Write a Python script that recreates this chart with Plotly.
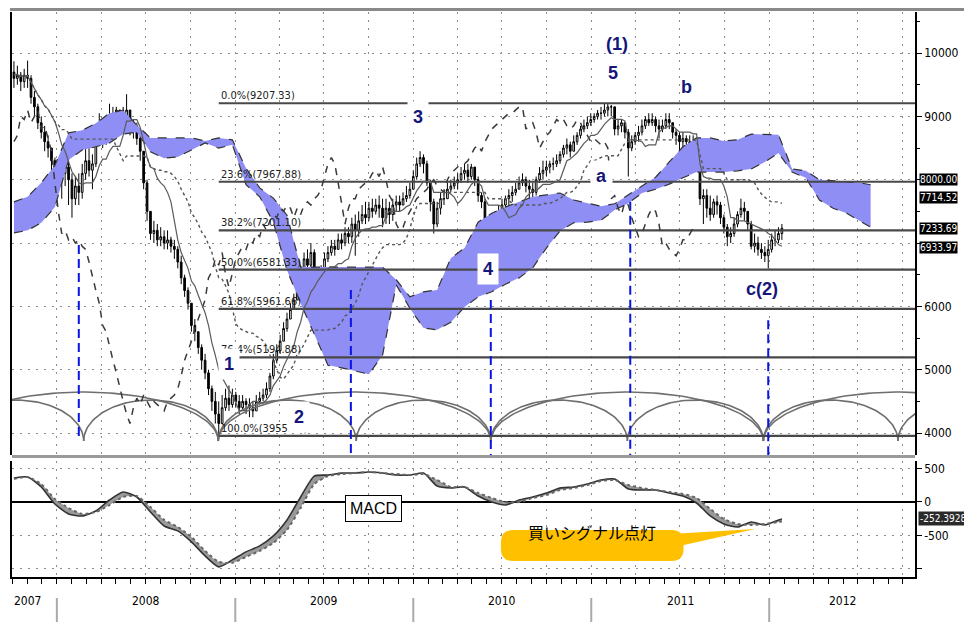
import numpy as np
import pandas as pd
import plotly.graph_objects as go

# ---------------- data (weekly candles) ----------------
first_week = "2007-10-05"
first_open = 9700

close = [
 9600, 9650, 9550, 9650, 9600, 9300, 9150, 8900, 8750, 8600, 8500, 8300, 8100,
 8000, 8100, 8200, 8000, 7700, 7900, 7800, 8100, 8300, 8150, 8250, 8600, 8800,
 8600, 8700, 9000, 8950, 9100, 8900, 9000, 9100, 8800, 8850, 8650, 8450, 7950,
 7500, 7150, 7200, 7050, 7100, 7000, 7050, 6950, 6900, 6700, 6450, 6250, 6050,
 5700, 5600, 5350, 5150, 4950, 4700, 4500, 4300, 4150, 4400, 4550, 4450, 4600,
 4500, 4400, 4500, 4450, 4400, 4350, 4500, 4550, 4600, 4700, 4900, 5150, 5300,
 5450, 5650, 5800, 5950, 6100, 6450, 6550, 6750, 6650, 6850, 6500, 6300, 6550,
 6750, 6850, 6950, 6900, 7050, 7000, 7150, 7100, 7300, 7200, 7350, 7450, 7400,
 7550, 7500, 7600, 7550, 7400, 7550, 7450, 7600, 7650, 7600, 7700, 7750, 7850,
 8050, 8250, 8350, 8250, 7950, 7650, 7300, 7550, 7700, 7700, 7850, 7900, 7950,
 8000, 8100, 8150, 8050, 8200, 8000, 7750, 7650, 7300, 7200, 7250, 7400, 7500,
 7600, 7700, 7750, 7800, 7850, 7950, 8000, 7900, 7850, 7800, 8000, 8100, 8150,
 8200, 8250, 8250, 8300, 8400, 8500, 8550, 8450, 8600, 8700, 8800, 8850, 8900,
 8950, 9000, 9050, 9050, 9100, 9150, 9150, 8800, 8850, 8900, 8750, 8500, 8600,
 8700, 8750, 8850, 8950, 8900, 8950, 8850, 8800, 8850, 8950, 8900, 8750, 8700,
 8600, 8650, 8600, 8550, 8600, 8500, 7700, 7750, 7550, 7450, 7650, 7600, 7400,
 7250, 7100, 7150, 7300, 7450, 7550, 7500, 7300, 6950, 7000, 6900, 6850, 6800,
 6900, 7050, 7050, 7150, 7233.69,
]
high = [
 9870, 9800, 9700, 9750, 9880, 9650, 9400, 9200, 9000, 8850, 8700, 8500, 8350,
 8250, 8250, 8400, 8450, 8100, 8050, 8100, 8250, 8500, 8500, 8400, 8700, 9050,
 8850, 8900, 9200, 9150, 9150, 9100, 9150, 9350, 9100, 8950, 8900, 8700, 8450,
 8000, 7500, 7350, 7300, 7250, 7200, 7200, 7100, 7050, 6950, 6800, 6500, 6300,
 6050, 5800, 5600, 5400, 5250, 5000, 4750, 4650, 4500, 4600, 4700, 4750, 4700,
 4650, 4600, 4600, 4550, 4550, 4500, 4600, 4650, 4700, 4800, 4950, 5250, 5400,
 5550, 5750, 5900, 6050, 6200, 6550, 6650, 6850, 6900, 7000, 6900, 6600, 6650,
 6850, 6950, 7050, 7050, 7150, 7150, 7250, 7250, 7400, 7450, 7500, 7600, 7650,
 7650, 7700, 7700, 7750, 7700, 7700, 7650, 7700, 7750, 7750, 7800, 7900, 7950,
 8150, 8350, 8450, 8400, 8300, 8000, 7700, 7650, 7800, 7850, 7950, 8000, 8050,
 8100, 8200, 8250, 8250, 8250, 8200, 8050, 7800, 7700, 7400, 7400, 7500, 7600,
 7700, 7750, 7850, 7900, 7950, 8050, 8100, 8050, 8000, 7950, 8050, 8200, 8300,
 8300, 8300, 8350, 8400, 8450, 8550, 8650, 8600, 8700, 8750, 8850, 8950, 9000,
 9050, 9050, 9100, 9150, 9200, 9207.33, 9180, 9150, 8950, 8950, 8900, 8800, 8700,
 8750, 8850, 8950, 9000, 9050, 9050, 9000, 8950, 8950, 9050, 9050, 8900, 8800,
 8750, 8750, 8700, 8700, 8700, 8650, 8500, 7850, 7850, 7750, 7700, 7750, 7650,
 7450, 7300, 7250, 7400, 7500, 7700, 7650, 7500, 7350, 7150, 7100, 7000, 6950,
 7050, 7150, 7200, 7250, 7300,
]
low = [
 9450, 9500, 9400, 9450, 9450, 9200, 9000, 8800, 8650, 8450, 8350, 8150, 7950,
 7850, 7700, 7900, 7600, 7400, 7600, 7600, 7700, 8000, 8050, 7850, 8200, 8550,
 8500, 8550, 8700, 8800, 8850, 8800, 8850, 8900, 8700, 8650, 8550, 8300, 7850,
 7350, 7050, 7000, 6950, 6950, 6900, 6900, 6850, 6750, 6600, 6350, 6150, 5950,
 5600, 5450, 5250, 5000, 4850, 4600, 4350, 4150, 3955.33, 4150, 4350, 4350, 4400,
 4400, 4300, 4350, 4300, 4250, 4250, 4350, 4450, 4500, 4550, 4650, 4850, 5100,
 5250, 5450, 5600, 5800, 5950, 6100, 6400, 6550, 6550, 6500, 6400, 6200, 6250,
 6500, 6700, 6800, 6800, 6900, 6900, 6950, 7000, 7000, 6800, 7100, 7300, 7300,
 7350, 7400, 7450, 7400, 7250, 7300, 7300, 7350, 7500, 7500, 7600, 7650, 7700,
 7850, 8000, 8200, 8100, 7900, 7500, 7150, 7250, 7450, 7600, 7700, 7800, 7850,
 7850, 7950, 8000, 7950, 8000, 7900, 7650, 7550, 7150, 6950, 7050, 7100, 7350,
 7450, 7550, 7600, 7650, 7750, 7850, 7900, 7800, 7700, 7550, 7750, 7950, 8000,
 8050, 8100, 8150, 8200, 8250, 8350, 8400, 8350, 8450, 8550, 8650, 8750, 8800,
 8850, 8900, 8950, 8950, 9000, 9000, 9000, 8700, 8700, 8750, 8650, 8050, 8450,
 8550, 8600, 8700, 8800, 8850, 8850, 8750, 8650, 8750, 8800, 8800, 8650, 8550,
 8450, 8500, 8450, 8450, 8400, 8400, 7600, 7300, 7400, 7350, 7400, 7450, 7300,
 7150, 6950, 7000, 7100, 7250, 7400, 7350, 7200, 6900, 6850, 6800, 6750, 6700,
 6600, 6850, 6950, 7000, 7050,
]

# Ichimoku cloud (senkou spans), sampled every 4 weeks from the first week
cloud_week = list(range(0, 249, 4)) + [251]
cloud_upper = [7650, 7730, 7950, 8230, 8740, 8780, 8890, 9050, 9100, 8860,
               8660, 8660, 8660, 8660, 8610, 8660, 8630, 8180, 7870, 7710,
               7440, 6620, 6620, 6620, 6620, 6620, 6620, 6620, 6420, 6150,
               6230, 6260, 6760, 6920, 7330, 7470, 7570, 7650, 7730, 7760,
               7790, 7680, 7630, 7580, 7620, 7760, 7900, 8040, 8280, 8520,
               8660, 8660, 8610, 8630, 8720, 8710, 8710, 8170, 8140, 8000,
               7980, 7960, 7950, 7920]
cloud_lower = [7160, 7200, 7320, 7570, 8310, 8470, 8520, 8580, 8720, 8750,
               8440, 8340, 8360, 8470, 8580, 8500, 8550, 7920, 7730, 7330,
               6570, 6050, 5550, 5070, 5030, 4980, 4930, 5230, 6340, 5970,
               5660, 5630, 5750, 5990, 6150, 6230, 6350, 6450, 6610, 6920,
               7190, 7320, 7330, 7360, 7520, 7630, 7790, 7850, 7930, 8030,
               8120, 8120, 8120, 8140, 8170, 8280, 8420, 8120, 8030, 7680,
               7550, 7470, 7350, 7250]

# MACD, sampled every 4 weeks (+ last week)
macd_week = list(range(0, 226, 4)) + [225]
macd = [358, 373, 224, -30, -179, -209, -134, 30, 149, 75,
        -149, -358, -432, -596, -805, -969, -864, -745, -656, -507,
        -268, 75, 387, 402, 432, 432, 447, 432, 402, 402,
        432, 238, 209, 224, 89, 0, -45, 30, 75, 134,
        209, 224, 268, 328, 343, 194, 179, 179, 134, 89,
        -15, -209, -328, -373, -298, -343, -268, -252.39]
signal = [343, 373, 268, 45, -89, -179, -149, -45, 75, 89,
          -75, -268, -373, -522, -730, -894, -909, -820, -730, -611,
          -417, -89, 268, 387, 417, 432, 447, 432, 417, 402,
          417, 328, 224, 224, 134, 60, 0, 0, 60, 104,
          179, 209, 253, 313, 328, 253, 209, 179, 149, 119,
          60, -104, -253, -328, -343, -328, -298, -290]

# Fibonacci retracement
fib_start = "2008-11-28"
fib_labels = ["0.0%(9207.33)", "23.6%(7967.88)", "38.2%(7201.10)", "50.0%(6581.33)",
              "61.8%(5961.66)", "76.4%(5194.88)", "100.0%(3955.33)"]
fib_values = [9207.33, 7967.88, 7201.10, 6581.33, 5961.66, 5194.88, 3955.33]

# Cycle arcs
cycle_lows_a = ["2007-05-23", "2008-02-25", "2008-11-27", "2009-09-06", "2010-06-09",
                "2011-03-16", "2011-12-20", "2012-09-21", "2013-06-25"]
cycle_lows_b = ["2007-05-23", "2008-11-27", "2010-06-09", "2011-12-20", "2013-06-25"]
cycle_base = 3874
cycle_peak_a = 4521
cycle_peak_b = 4647

# Blue dashed cycle-low markers
vline_dates = ["2008-02-15", "2009-08-26", "2010-06-09", "2011-03-22", "2011-12-30"]
vline_top = [6970, 6260, 6100, 7650, 5780]
vline_bottom = [3890, 3500, 3500, 3500, 3500]

# right-side value boxes
right_labels = ["8000.00", "7714.52", "7233.69", "6933.97"]
right_values = [8000, 7714.52, 7233.69, 6933.97]
macd_last_label = "-252.3928"
macd_last_value = -252.39

price_ticks = [4000, 5000, 6000, 7000, 8000, 9000, 10000]
price_tick_text = ["4000", "5000", "6000", "", "", "9000", "10000"]
macd_ticks = [-1000, -500, 0, 500]
macd_tick_text = ["", "-500", "0", "500"]
years = ["2007", "2008", "2009", "2010", "2011", "2012"]

# ---------------- derived ----------------
n = len(close)
dates = pd.date_range(first_week, periods=260, freq="7D")
cdates = dates[:n]
openp = [first_open] + close[:-1]
high_c = [max(h, o, c) for h, o, c in zip(high, openp, close)]
low_c = [min(l, o, c) for l, o, c in zip(low, openp, close)]
hs = pd.Series(high_c)
ls = pd.Series(low_c)
tenkan = (hs.rolling(9, min_periods=1).max() + ls.rolling(9, min_periods=1).min()) / 2
kijun = (hs.rolling(26, min_periods=1).max() + ls.rolling(26, min_periods=1).min()) / 2

X_RANGE = ["2007-10-01", "2012-10-26"]
NARROW = "Liberation Sans Narrow, DejaVu Sans Condensed, Arial Narrow, sans-serif"
NAVY = "#15157a"

# page-pixel -> paper helpers (plot area on page: x 10..915, y 12..577)
def PX(px):
    return (px - 10) / 905.0

def PY(py):
    return (577 - py) / 565.0

fig = go.Figure()

# cloud
cx = [dates[i] for i in cloud_week]
fig.add_trace(go.Scatter(x=cx, y=cloud_upper, mode="lines",
                         line=dict(color="#333", width=1.2, dash="dash"),
                         hoverinfo="skip", showlegend=False))
fig.add_trace(go.Scatter(x=cx, y=cloud_lower, mode="lines", fill="tonexty",
                         fillcolor="#8e8ef5",
                         line=dict(color="#333", width=1.2, dash="dash"),
                         hoverinfo="skip", showlegend=False))

# cycle arcs
def arcs(lows, peak):
    xs, ys = [], []
    th = np.linspace(0, np.pi, 90)
    frac = (1 - np.cos(th)) / 2
    for a, b in zip(lows[:-1], lows[1:]):
        t0, t1 = pd.Timestamp(a), pd.Timestamp(b)
        xs += [t0 + (t1 - t0) * f for f in frac] + [None]
        ys += list(cycle_base + (peak - cycle_base) * np.sin(th)) + [None]
    return xs, ys

for lows, peak in [(cycle_lows_a, cycle_peak_a), (cycle_lows_b, cycle_peak_b)]:
    ax, ay = arcs(lows, peak)
    fig.add_trace(go.Scatter(x=ax, y=ay, mode="lines",
                             line=dict(color="#6e6e6e", width=1.6),
                             hoverinfo="skip", showlegend=False, connectgaps=False))

# fibonacci lines
for v in fib_values:
    fig.add_trace(go.Scatter(x=[fib_start, X_RANGE[1]], y=[v, v], mode="lines",
                             line=dict(color="#484848", width=2.2),
                             hoverinfo="skip", showlegend=False))

# blue dashed verticals
for d, t, b in zip(vline_dates, vline_top, vline_bottom):
    fig.add_trace(go.Scatter(x=[d, d], y=[t, b], mode="lines",
                             line=dict(color="#0a14e6", width=2, dash="9px,5px"),
                             hoverinfo="skip", showlegend=False))

# ichimoku lines
fig.add_trace(go.Scatter(x=cdates[:-26], y=close[26:], mode="lines",
                         line=dict(color="#3a3a3a", width=1.5, dash="7px,7px"),
                         hoverinfo="skip", showlegend=False))
fig.add_trace(go.Scatter(x=cdates, y=kijun, mode="lines",
                         line=dict(color="#555", width=1.4, dash="dot"),
                         hoverinfo="skip", showlegend=False))
fig.add_trace(go.Scatter(x=cdates, y=tenkan, mode="lines",
                         line=dict(color="#5a5a5a", width=1.2),
                         hoverinfo="skip", showlegend=False))

# candles
fig.add_trace(go.Candlestick(x=cdates, open=openp, high=high_c, low=low_c, close=close,
                             increasing=dict(line=dict(color="black", width=1), fillcolor="white"),
                             decreasing=dict(line=dict(color="black", width=1), fillcolor="black"),
                             whiskerwidth=0, showlegend=False, hoverinfo="skip"))

# MACD
mx = [dates[i] for i in macd_week]
fig.add_trace(go.Scatter(x=mx, y=macd, mode="lines", xaxis="x2", yaxis="y2",
                         line=dict(color="#333", width=1.6, shape="spline", smoothing=0.6),
                         hoverinfo="skip", showlegend=False))
fig.add_trace(go.Scatter(x=mx, y=signal, mode="lines", xaxis="x2", yaxis="y2",
                         fill="tonexty", fillcolor="#9a9a9a",
                         line=dict(color="#666", width=2, dash="dot", shape="spline", smoothing=0.6),
                         hoverinfo="skip", showlegend=False))

# ---------------- annotations ----------------
ann = []
for lab, v in zip(fib_labels, fib_values):
    ann.append(dict(x=fib_start, y=v, xref="x", yref="y", text=lab, showarrow=False,
                    xanchor="left", yanchor="bottom", yshift=-1,
                    font=dict(family=NARROW, size=11, color="#222")))

waves = [("(1)", "2011-02-23", 10142, None), ("5", "2011-02-15", 9684, None),
         ("b", "2011-07-16", 9463, None), ("3", "2010-01-10", 8990, "white"),
         ("a", "2011-01-21", 8058, "white"), ("4", "2010-06-03", 6590, "white"),
         ("c(2)", "2011-12-18", 6274, "white"), ("1", "2008-12-20", 5090, "white"),
         ("2", "2009-05-12", 4250, "white")]
for t, d, v, bg in waves:
    a = dict(x=d, y=v, xref="x", yref="y", text="<b>%s</b>" % t, showarrow=False,
             font=dict(family="Liberation Sans, Arial, sans-serif", size=18, color=NAVY))
    if bg:
        a.update(bgcolor=bg, borderpad=5)
    ann.append(a)

for lab, v in zip(right_labels, right_values):
    ann.append(dict(x=1, y=v, xref="paper", yref="y", text=lab, showarrow=False,
                    xanchor="left", xshift=4, bgcolor="black", borderpad=0,
                    font=dict(family=NARROW, size=10, color="white")))
ann.append(dict(x=1, y=macd_last_value, xref="paper", yref="y2", text=macd_last_label,
                showarrow=False, xanchor="left", xshift=3, bgcolor="#2a2a2a", borderpad=1,
                font=dict(family=NARROW, size=10, color="white")))

ann.append(dict(x=PX(372), y=PY(522), xref="paper", yref="paper", text="MACD",
                showarrow=False, bgcolor="white", bordercolor="black", borderwidth=1,
                borderpad=4, font=dict(family="Liberation Sans, Arial, sans-serif",
                                       size=16, color="black")))
ann.append(dict(x=PX(591), y=PY(546), xref="paper", yref="paper", text="買いシグナル点灯",
                showarrow=False, font=dict(family="Noto Sans CJK JP", size=16, color="black")))

# year labels
xr0, xr1 = pd.Timestamp(X_RANGE[0]), pd.Timestamp(X_RANGE[1])
for y in years:
    a0 = max(pd.Timestamp(f"{y}-01-01"), xr0)
    a1 = min(pd.Timestamp(f"{int(y)+1}-01-01"), xr1)
    mid = a0 + (a1 - a0) / 2
    ann.append(dict(x=mid, y=PY(610), xref="x2", yref="paper", text=y, showarrow=False,
                    xshift=-7 if y == years[0] else 0,
                    font=dict(family=NARROW, size=12, color="black")))

shapes = []
for y in years[1:]:
    shapes.append(dict(type="line", xref="x2", yref="paper", x0=f"{y}-01-01",
                       x1=f"{y}-01-01", y0=PY(598), y1=PY(622),
                       line=dict(color="#aaaaaa", width=2)))
# frame decorations
shapes.append(dict(type="line", xref="paper", yref="paper", x0=PX(8), x1=PX(972),
                   y0=PY(9.5), y1=PY(9.5), line=dict(color="#8a8a8a", width=3)))
shapes.append(dict(type="line", xref="paper", yref="paper", x0=PX(10), x1=PX(915),
                   y0=PY(456.5), y1=PY(456.5), line=dict(color="#9a9a9a", width=3)))
# callout bubble
x0, x1, y0, y1, r = 500, 683, 530, 561, 12
path = (f"M {PX(x0+r)},{PY(y0)} L {PX(x1-r)},{PY(y0)} Q {PX(x1)},{PY(y0)} {PX(x1)},{PY(y0+r)} "
        f"L {PX(x1)},{PY(y1-r)} Q {PX(x1)},{PY(y1)} {PX(x1-r)},{PY(y1)} "
        f"L {PX(x0+r)},{PY(y1)} Q {PX(x0)},{PY(y1)} {PX(x0)},{PY(y1-r)} "
        f"L {PX(x0)},{PY(y0+r)} Q {PX(x0)},{PY(y0)} {PX(x0+r)},{PY(y0)} Z")
shapes.append(dict(type="path", xref="paper", yref="paper", path=path,
                   fillcolor="#ffc000", line=dict(width=0)))
shapes.append(dict(type="path", xref="paper", yref="paper",
                   path=f"M {PX(670)},{PY(534)} L {PX(755)},{PY(529)} L {PX(670)},{PY(548)} Z",
                   fillcolor="#ffc000", line=dict(width=0)))

grid = dict(showgrid=True, gridcolor="#8a8a8a", griddash="2px,6px", gridwidth=1)

# the page body has an 8px margin, so the figure is 8px smaller and shifted accordingly
fig.update_layout(
    width=964, height=616, autosize=False,
    margin=dict(l=2, r=57, t=4, b=47),
    paper_bgcolor="white", plot_bgcolor="white",
    showlegend=False,
    annotations=ann, shapes=shapes,
    xaxis=dict(domain=[0, 1], anchor="y", range=X_RANGE, type="date",
               tick0="2008-01-01", dtick="M3", showticklabels=False, ticks="",
               rangeslider=dict(visible=False), showline=False, zeroline=False, **grid),
    yaxis=dict(domain=[0.2159, 1.0], anchor="x", side="right", range=[3653, 10648],
               tickvals=price_ticks, ticktext=price_tick_text,
               ticks="outside", ticklen=5, tickcolor="black",
               minor=dict(dtick=500, ticks="outside", ticklen=3, tickcolor="black"),
               showline=True, linecolor="black", linewidth=1.5, mirror=True,
               zeroline=False, tickfont=dict(family=NARROW, size=12, color="black"), **grid),
    xaxis2=dict(domain=[0, 1], anchor="y2", range=X_RANGE, type="date", matches="x",
                tick0="2008-01-01", dtick="M3", showticklabels=False,
                ticks="outside", ticklen=5, tickcolor="black",
                minor=dict(dtick="M1", ticks="outside", ticklen=5, tickcolor="black"),
                showline=True, linecolor="black", linewidth=1.5, zeroline=False, **grid),
    yaxis2=dict(domain=[0, 0.2053], anchor="x2", side="right", range=[-1120, 612],
                tickvals=macd_ticks, ticktext=macd_tick_text,
                ticks="outside", ticklen=5, tickcolor="black",
                showline=True, linecolor="black", linewidth=1.5, mirror=True,
                zeroline=True, zerolinecolor="black", zerolinewidth=1.5,
                tickfont=dict(family=NARROW, size=12, color="black"), **grid),
)

fig.write_html("out.html")
